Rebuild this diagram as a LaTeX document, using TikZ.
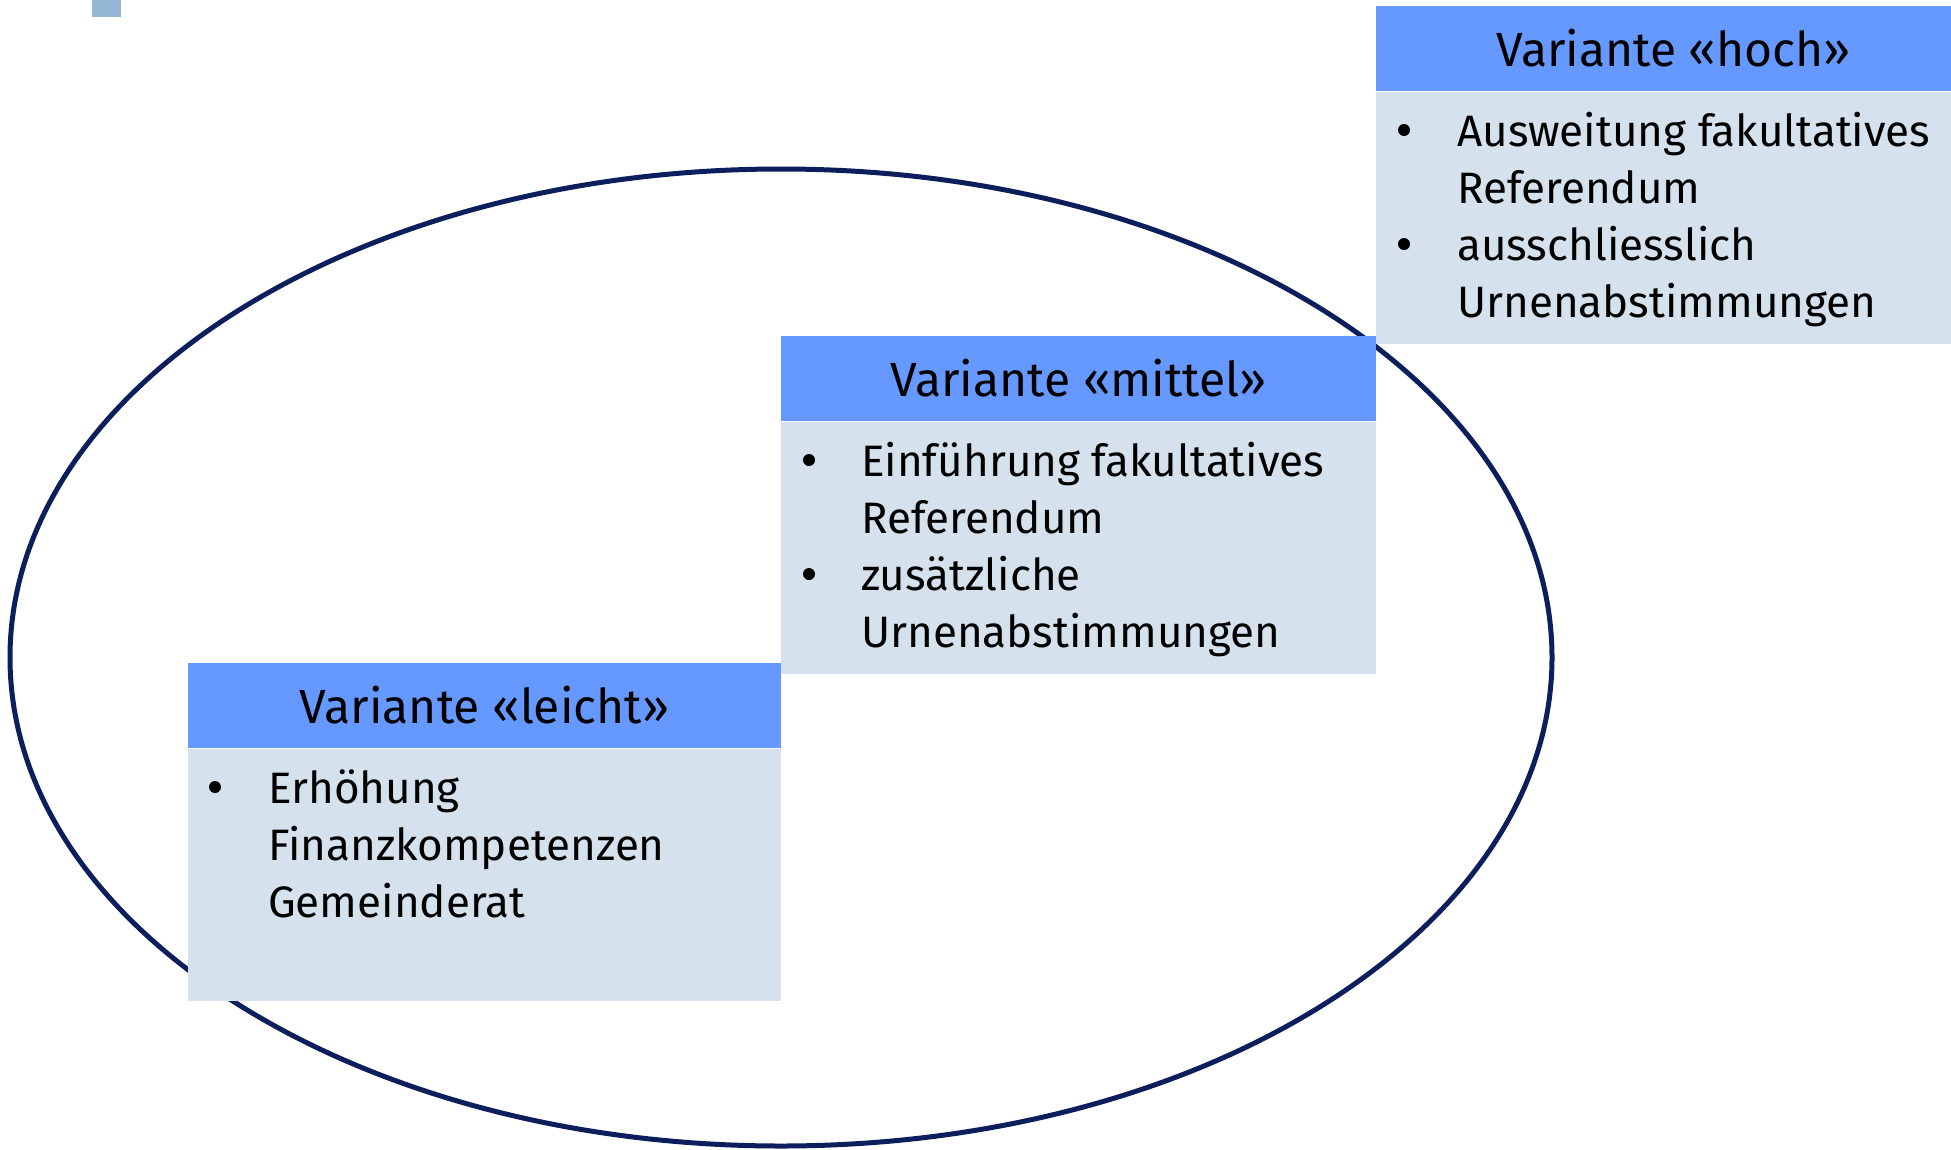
\documentclass[tikz,border=0pt]{standalone}
\usepackage{fontspec}
\usetikzlibrary{shapes.geometric}
\setmainfont{Fira Sans}
\definecolor{hdr}{HTML}{6699FF}
\definecolor{bdy}{HTML}{D5E2EE}
\definecolor{ring}{HTML}{0C1F5C}
\definecolor{sq}{HTML}{95B6D5}
\tikzset{
  hdrbox/.style={fill=hdr, draw=none, anchor=north west, minimum width=595pt, minimum height=85pt, inner sep=0pt},
  bodybox/.style={fill=bdy, draw=none, anchor=north west, minimum width=595pt, minimum height=252pt, inner sep=0pt},
  htext/.style={anchor=base, inner sep=0pt, font=\fontsize{48}{56}\selectfont},
  btext/.style={anchor=base west, inner sep=0pt, font=\fontsize{44}{52}\selectfont},
  bul/.style={circle, fill=black, draw=none, minimum size=12pt, inner sep=0pt},
}
\begin{document}
\begin{tikzpicture}[x=1pt,y=-1pt]
\useasboundingbox (0,0) rectangle (1951,1149);
\clip (0,0) rectangle (1951,1149);
\fill[sq] (92,0) rectangle (121,17);
\node[draw=ring, line width=5pt, ellipse, minimum width=1542pt, minimum height=977pt, inner sep=0pt] (ring) at (781,657.5) {};
% hoch
\node[hdrbox] (hochhdr) at (1376,6) {};
\node[bodybox] (hochbody) at (hochhdr.south west) {};
\node[htext] (hocht) at (1673.5,66) {Variante «hoch»};
\node[bul] (h1b) at (1404,130) {};
\node[btext] (h1) at (1457,146) {Ausweitung fakultatives};
\node[btext] (h2) at (1457,203) {Referendum};
\node[bul] (h3b) at (1404,244) {};
\node[btext] (h3) at (1457,260) {ausschliesslich};
\node[btext] (h4) at (1457,317) {Urnenabstimmungen};
% mittel
\node[hdrbox] (mitthdr) at (781,336) {};
\node[bodybox] (mittbody) at (mitthdr.south west) {};
\node[htext] (mittt) at (1078.5,396) {Variante «mittel»};
\node[bul] (m1b) at (809,460) {};
\node[btext] (m1) at (861,476) {Einführung fakultatives};
\node[btext] (m2) at (861,533) {Referendum};
\node[bul] (m3b) at (809,574) {};
\node[btext] (m3) at (861,590) {zusätzliche};
\node[btext] (m4) at (861,647) {Urnenabstimmungen};
% leicht
\node[hdrbox, minimum width=593pt] (leichdr) at (188,663) {};
\node[bodybox, minimum width=593pt] (leicbody) at (leichdr.south west) {};
\node[htext] (leict) at (484.5,723) {Variante «leicht»};
\node[bul] (l1b) at (215,787) {};
\node[btext] (l1) at (268,803) {Erhöhung};
\node[btext] (l2) at (268,860) {Finanzkompetenzen};
\node[btext] (l3) at (268,917) {Gemeinderat};
\end{tikzpicture}
\end{document}
